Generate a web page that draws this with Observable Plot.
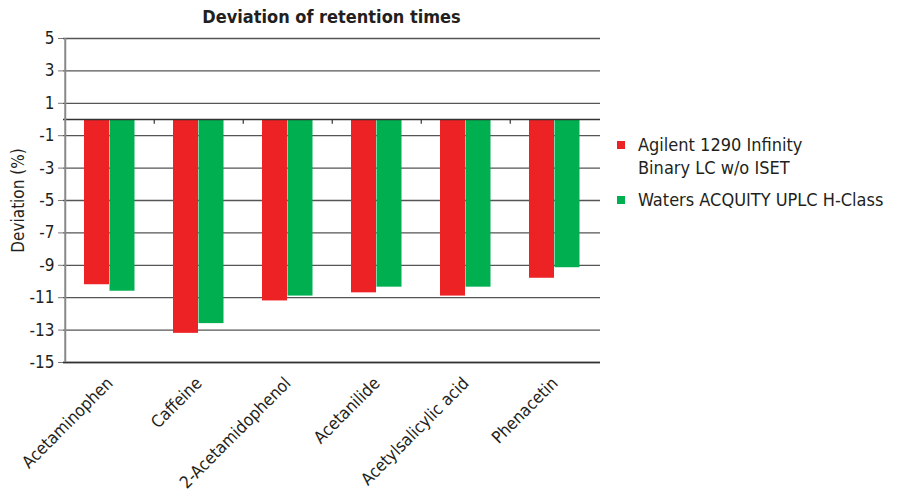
<!DOCTYPE html>
<html><head><meta charset="utf-8">
<script src="https://cdn.jsdelivr.net/npm/d3@7"></script>
<script src="https://cdn.jsdelivr.net/npm/@observablehq/plot@0.6"></script>
<style>
body{margin:0;background:#fff;font-family:"DejaVu Sans Condensed",sans-serif;}
#wrap{position:relative;width:898px;height:497px;}
#title{position:absolute;left:63px;width:537px;top:6px;text-align:center;font-weight:bold;font-size:18px;color:#231f20;}
.leg{position:absolute;left:617px;font-size:18px;color:#231f20;line-height:23px;}
.sw{position:absolute;left:0;width:8px;height:8px;}
.lt{position:absolute;left:21px;white-space:nowrap;}
</style></head>
<body><div id="wrap"><div id="title">Deviation of retention times</div>
<div class="leg" style="top:133px"><div class="sw" style="top:8px;background:#ED2224"></div><div class="lt">Agilent 1290 Infinity<br>Binary LC w/o ISET</div></div>
<div class="leg" style="top:188px"><div class="sw" style="top:8px;background:#00B050"></div><div class="lt">Waters ACQUITY UPLC H-Class</div></div>
</div>
<script>
const categories = ["Acetaminophen","Caffeine","2-Acetamidophenol","Acetanilide","Acetylsalicylic acid","Phenacetin"];
const agilent = [-10.2,-13.2,-11.2,-10.7,-10.9,-9.8];
const waters = [-10.6,-12.6,-10.9,-10.35,-10.35,-9.15];
const yTicks = [5,3,1,-1,-3,-5,-7,-9,-11,-13,-15];
const red = "#ED2224", green = "#00B050";
const rows = categories.map((c,i)=>({c, a: agilent[i], w: waters[i]}));
const chart = Plot.plot({
  width: 898, height: 497,
  marginLeft: 63, marginRight: 298, marginTop: 38, marginBottom: 135,
  style: {fontFamily: '"DejaVu Sans Condensed",sans-serif', background: "#fff"},
  x: {domain: categories, padding: 0, label: null},
  y: {domain: [-15, 5], label: null},
  marks: [
    Plot.gridY(yTicks, {stroke: "#555", strokeOpacity: 1, strokeWidth: 1.3}),
    Plot.barY(rows, {x: "c", y: "a", fill: red, insetLeft: 19, insetRight: 45}),
    Plot.barY(rows, {x: "c", y: "w", fill: green, insetLeft: 44.5, insetRight: 19.5}),
    Plot.ruleY([0], {stroke: "#333", strokeWidth: 1.5}),
    Plot.ruleX(categories.slice(1), {x: d=>d, y1: 0, y2: -0.3, dx: -44.75, stroke: "#333", strokeWidth: 1.2}),
    Plot.ruleY([-15], {stroke: "#333", strokeWidth: 1.5}),
    Plot.axisY({ticks: yTicks, tickFormat: d=>String(d), tickSize: 5, tickPadding: 4, fontSize: 17, fill: "#231f20", stroke: "#777", label: null}),
    Plot.ruleX([0], {x: ()=>categories[0], dx: -44.75, y1: -15, y2: 5, stroke: "#888", strokeWidth: 2}),
    Plot.axisX({tickSize: 0, tickRotate: -45, textAnchor: "end", fontSize: 17, fill: "#231f20", tickPadding: 18, label: null}),
    Plot.text(["Deviation (%)"], {frameAnchor: "left", textAnchor: "middle", dx: -45, rotate: -90, fontSize: 17, fill: "#231f20"})
  ]
});
document.getElementById("wrap").prepend(chart);
</script></body></html>
